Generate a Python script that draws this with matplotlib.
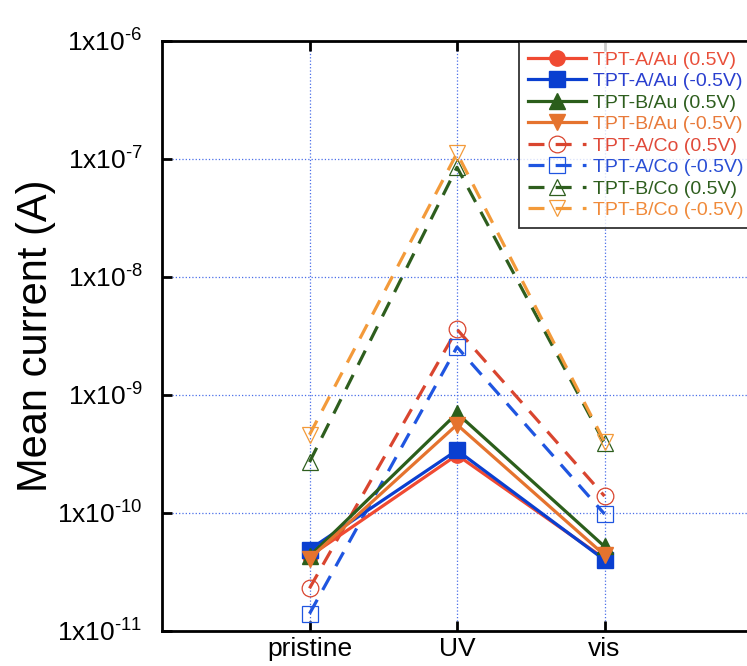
import matplotlib
matplotlib.use('Agg')
import matplotlib.pyplot as plt
import numpy as np

plt.rcParams['font.family'] = ['Liberation Sans', 'DejaVu Sans']
plt.rcParams['mathtext.fontset'] = 'custom'
plt.rcParams['mathtext.rm'] = 'Liberation Sans'
plt.rcParams['mathtext.default'] = 'regular'

# ===== DATA =====
conditions = ['pristine', 'UV', 'vis']
labels = ['TPT-A/Au (0.5V)', 'TPT-A/Au (-0.5V)', 'TPT-B/Au (0.5V)', 'TPT-B/Au (-0.5V)',
          'TPT-A/Co (0.5V)', 'TPT-A/Co (-0.5V)', 'TPT-B/Co (0.5V)', 'TPT-B/Co (-0.5V)']
tpta_au_pos = [4.3e-11, 3.1e-10, 4.1e-11]
tpta_au_neg = [4.9e-11, 3.4e-10, 4.0e-11]
tptb_au_pos = [4.3e-11, 7.0e-10, 5.2e-11]
tptb_au_neg = [4.1e-11, 5.6e-10, 4.4e-11]
tpta_co_pos = [2.3e-11, 3.6e-9, 1.39e-10]
tpta_co_neg = [1.4e-11, 2.55e-9, 9.8e-11]
tptb_co_pos = [2.7e-10, 8.5e-8, 3.9e-10]
tptb_co_neg = [4.6e-10, 1.12e-7, 4.0e-10]
yticks = [1e-11, 1e-10, 1e-9, 1e-8, 1e-7, 1e-6]
ytick_labels = [r'1x10$^{\text{-11}}$', r'1x10$^{\text{-10}}$', r'1x10$^{\text{-9}}$',
                r'1x10$^{\text{-8}}$', r'1x10$^{\text{-7}}$', r'1x10$^{\text{-6}}$']

series = [tpta_au_pos, tpta_au_neg, tptb_au_pos, tptb_au_neg,
          tpta_co_pos, tpta_co_neg, tptb_co_pos, tptb_co_neg]
line_colors = ['#F04A32', '#0A3FD0', '#2B5E1B', '#E5732E',
               '#D9452F', '#1F55E0', '#2E5E1E', '#F39A3A']
text_colors = ['#E94F3A', '#2A3FCF', '#2E5E1E', '#E87A3A',
               '#E04A3A', '#2A4FD5', '#2E5E1E', '#F08A3A']
markers = ['o', 's', '^', 'v', 'o', 's', '^', 'v']

fig = plt.figure(figsize=(7.47, 6.66), dpi=100)
ax = fig.add_axes([0.2169, 0.0526, 0.7898, 0.8859])

x = np.arange(1, len(conditions) + 1)
for i, (vals, lab) in enumerate(zip(series, labels)):
    c = line_colors[i]
    if i < 4:
        ax.plot(x, vals, color=c, marker=markers[i], markersize=11, linewidth=2.3,
                label=lab, zorder=3)
    else:
        ax.plot(x, vals, color=c, marker=markers[i], markersize=12, linewidth=2.3,
                linestyle=(0, (5, 3.5)), markerfacecolor='none', markeredgewidth=0.9,
                label=lab, zorder=2)

ax.set_yscale('log')
ax.set_ylim(1e-11, 1e-6)
ax.set_xlim(0, 4)
ax.set_xticks(x)
ax.set_xticklabels(conditions)
ax.set_yticks(yticks)
ax.set_yticklabels(ytick_labels)
ax.minorticks_off()
ax.tick_params(axis='both', which='major', direction='in', length=7, width=2,
               top=True)
ax.tick_params(axis='y', pad=14, labelsize=19)
ax.tick_params(axis='x', pad=4, labelsize=19)
for sp in ax.spines.values():
    sp.set_linewidth(2)
ax.grid(True, color='#4A6FE8', linestyle=':', linewidth=0.9)
ax.set_ylabel('Mean current (A)', fontsize=30, labelpad=1)

leg = ax.legend(loc='upper right', bbox_to_anchor=(1.0, 0.998), borderaxespad=0,
                fontsize=14, fancybox=False, handlelength=3.0, handletextpad=0.35,
                labelspacing=0.2, borderpad=0.45)
leg.get_frame().set_edgecolor('black')
leg.get_frame().set_linewidth(1.3)
for t, c in zip(leg.get_texts(), text_colors):
    t.set_color(c)

fig.savefig('out.png', dpi=100)
